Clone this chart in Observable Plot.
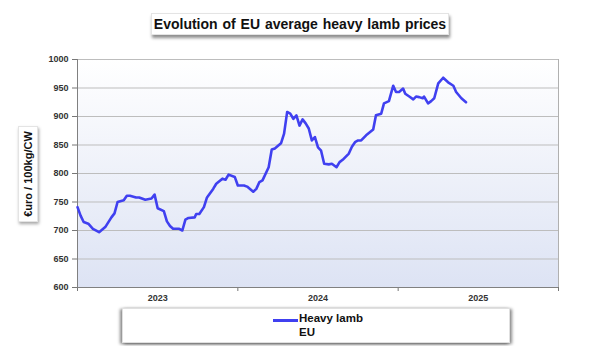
<!DOCTYPE html>
<html>
<head>
<meta charset="utf-8">
<script src="https://cdn.jsdelivr.net/npm/d3@7"></script>
<script src="https://cdn.jsdelivr.net/npm/@observablehq/plot@0.6"></script>
<style>
  html, body { margin: 0; padding: 0; background: #ffffff; }
  #wrap { position: relative; width: 600px; height: 346px; overflow: hidden; font-family: "Liberation Sans", Arial, sans-serif; }
  #chart { position: absolute; left: 0; top: 0; }
  #title { position: absolute; left: 151px; top: 13px; width: 296px; height: 20px; background: #fff;
           box-shadow: 1px 3px 3px rgba(0,0,0,0.45); border: 1px solid #e4e4e4;
           font-weight: bold; font-size: 14px; line-height: 20px; text-align: center; color: #111; word-spacing: 1px; }
  #ylabel { position: absolute; left: 18px; top: 126px; width: 18px; height: 94px; background: #fff;
            box-shadow: 1px 2px 3px rgba(0,0,0,0.35); border: 1px solid #e4e4e4; }
  #ylabel span { position: absolute; left: 50%; top: 50%; transform: translate(-50%, -50%) rotate(-90deg);
                 white-space: nowrap; font-weight: bold; font-size: 11px; color: #111; }
  #legend { position: absolute; left: 122px; top: 308px; width: 386px; height: 33px; background: #fff;
            border: 1px solid #e0e0e0; box-shadow: -2px 1px 3px rgba(0,0,0,0.45), 2px 1px 3px rgba(0,0,0,0.45); }
  #legend .sw { position: absolute; left: 150px; top: 10px; width: 25px; height: 3px; background: #4040f0; }
  #legend .t1 { position: absolute; left: 176px; top: 3px; font-weight: bold; font-size: 11.5px; color: #111; }
  #legend .t2 { position: absolute; left: 176px; top: 17px; font-weight: bold; font-size: 11.5px; color: #111; }
</style>
</head>
<body>
<div id="wrap">
  <div id="chart"></div>
  <div id="title">Evolution of EU average heavy lamb prices</div>
  <div id="ylabel"><span>€uro / 100kg/CW</span></div>
  <div id="legend"><div class="sw"></div><div class="t1">Heavy lamb</div><div class="t2">EU</div></div>
</div>
<script>
// weeks since 1 Jan 2023
const weeks = [0, 1, 2, 3.5, 5, 7, 9, 11, 12, 13, 15, 16, 17, 19, 20, 22, 24, 25, 26, 28, 29, 30, 31, 33, 34, 35, 36, 38, 38.5, 39.5,
  41, 42, 44, 45, 47, 48, 49, 51, 52, 54, 55, 57, 58, 59, 60, 62, 63, 64, 66, 67, 68, 69, 70, 71, 72, 73, 74, 75, 76, 77, 78, 79,
  80, 81.5, 82.5, 84, 85, 86, 88, 89, 90, 91, 92, 93.6, 95.9, 96.8, 98.5, 99.4, 101, 102.4, 103.3, 104.3, 105.6, 106.3, 107.6,
  108.9, 109.8, 110.8, 112, 112.4, 113.7, 114.7, 115.7, 117, 118.6, 120.2, 121.9, 122.8, 124.5, 126];
const prices = [741, 726, 715, 712, 703, 697, 706, 723, 730, 750, 753, 761, 761, 758, 758, 754, 756, 763, 739, 734, 716, 708, 703, 703, 700, 719, 722, 723, 729, 729,
  741, 758, 773, 782, 791, 789, 798, 794, 779, 779, 777, 768, 773, 785, 788, 811, 842, 844, 853, 870, 908, 905, 896, 902, 884, 895, 888, 879, 858, 864, 846, 840,
  817, 816, 817, 811, 820, 824, 835, 847, 855, 858, 858, 867, 877, 902, 905, 923, 927, 954, 943, 943, 949, 940, 935,
  930, 935, 934, 932, 935, 923, 927, 932, 958, 968, 960, 954, 943, 932, 925];
const yTicks = [600, 650, 700, 750, 800, 850, 900, 950, 1000];
const yearBounds = [0, 52, 104, 156];
const yearCenters = [26, 78, 130];
const yearLabels = ["2023", "2024", "2025"];

const data = weeks.map((w, i) => ({w, v: prices[i]}));

const gradient = () => {
  const defs = d3.create("svg:defs");
  const lg = defs.append("linearGradient").attr("id", "bgGrad")
    .attr("x1", 0).attr("y1", 0).attr("x2", 0).attr("y2", 1);
  lg.append("stop").attr("offset", "0%").attr("stop-color", "#ffffff");
  lg.append("stop").attr("offset", "100%").attr("stop-color", "#dde3f4");
  return defs.node();
};

const chart = Plot.plot({
  width: 600,
  height: 346,
  marginLeft: 77,
  marginRight: 42,
  marginTop: 59,
  marginBottom: 59,
  style: {fontFamily: "'Liberation Sans', Arial, sans-serif", fontSize: "9px", fontWeight: "bold", color: "#333", background: "transparent"},
  x: {domain: [0, 156], axis: null},
  y: {domain: [600, 1000], axis: null},
  marks: [
    gradient,
    Plot.frame({fill: "url(#bgGrad)", stroke: "#b0b0b0"}),
    Plot.ruleY(yTicks, {stroke: "#bdbdbd", strokeWidth: 1}),
    Plot.axisY(yTicks, {tickSize: 5, tickPadding: 4, label: null, stroke: "#777", fill: "#333", tickFormat: d => String(d)}),
    Plot.axisX(yearBounds, {tickSize: 4, tickFormat: () => "", label: null, stroke: "#777"}),
    Plot.ruleX([0], {stroke: "#808080", strokeWidth: 1}),
    Plot.ruleY([600], {stroke: "#808080", strokeWidth: 1}),
    Plot.text(yearCenters, {x: d => d, y: 600, dy: 11, text: (d, i) => yearLabels[i], fill: "#333", fontWeight: "bold", fontSize: 9}),
    Plot.line(data, {x: "w", y: "v", stroke: "#4040f0", strokeWidth: 2.6, curve: "linear", strokeLinejoin: "round"})
  ]
});
document.getElementById("chart").appendChild(chart);
</script>
</body>
</html>
